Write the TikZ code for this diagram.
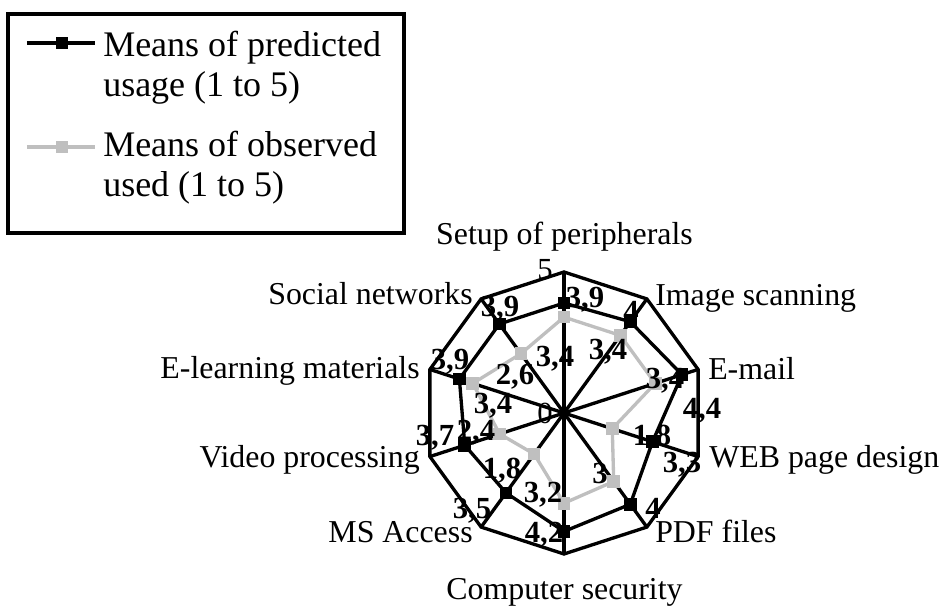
\documentclass[tikz,border=0pt]{standalone}
\usepackage{fontspec}
\setmainfont{Liberation Serif}
\usepackage{xcolor}
\usepackage{tikz}
\usetikzlibrary{positioning, arrows.meta}
\definecolor{sGray}{HTML}{BFBFBF}

\tikzset{
  gridline/.style={draw=black, line width=2.5pt, line join=miter},
  predline/.style={draw=black, line width=2.5pt},
  obsline/.style={draw=sGray, line width=2.5pt, line join=round},
  predmark/.style={fill=black, minimum size=9.5pt, inner sep=0pt},
  obsmark/.style={fill=sGray, minimum size=9.5pt, inner sep=0pt},
  catlabel/.style={font=\fontsize{23.9}{28}\selectfont, inner sep=0pt},
  vallabel/.style={font=\fontsize{23}{26}\selectfont\bfseries, inner sep=0pt, anchor=base},
  axlabel/.style={font=\fontsize{23}{26}\selectfont, inner sep=0pt, anchor=base},
  legtext/.style={font=\fontsize{27}{30}\selectfont, inner sep=0pt, anchor=base west},
}

\begin{document}
\begin{tikzpicture}[x=0.75pt, y=0.75pt]
  \useasboundingbox (-564,413) rectangle (379,-194);
  \coordinate (c) at (0,0);
  \foreach \i in {0,...,9} \coordinate (o\i) at ({90-36*\i}:141);
  \foreach \i in {0,...,9} \draw[gridline] (c) -- (o\i);
  \draw[gridline] (o0) -- (o1) -- (o2) -- (o3) -- (o4) -- (o5) -- (o6) -- (o7) -- (o8) -- (o9) -- cycle;

  \foreach \v [count=\i from 0] in {3.9,4,4.4,3.3,4,4.2,3.5,3.7,3.9,3.9}
    \coordinate (p\i) at ({90-36*\i}:{\v*28.2});
  \foreach \v [count=\i from 0] in {3.4,3.4,3.4,1.8,3,3.2,1.8,2.4,3.4,2.6}
    \coordinate (q\i) at ({90-36*\i}:{\v*28.2});
  \draw[predline] (p0) -- (p1) -- (p2) -- (p3) -- (p4) -- (p5) -- (p6) -- (p7) -- (p8) -- (p9) -- cycle;
  \draw[obsline] (q0) -- (q1) -- (q2) -- (q3) -- (q4) -- (q5) -- (q6) -- (q7) -- (q8) -- (q9) -- cycle;
  \foreach \i in {0,...,9} {
    \node[predmark] (pm\i) at (p\i) {};
    \node[obsmark] (qm\i) at (q\i) {};
  }

  \node[axlabel] (max) at (-19,133) {5};
  \node[axlabel] (min) at (-19,-10) {0};

  \node[vallabel] (pv0) at (21,105) {3,9};
  \node[vallabel] (pv1) at (67,91) {4};
  \node[vallabel] (pv2) at (138,-5) {4,4};
  \node[vallabel] (pv3) at (118,-59) {3,3};
  \node[vallabel] (pv4) at (89,-105) {4};
  \node[vallabel] (pv5) at (-20,-129) {4,2};
  \node[vallabel] (pv6) at (-92,-105) {3,5};
  \node[vallabel] (pv7) at (-129,-32) {3,7};
  \node[vallabel] (pv8) at (-114,44) {3,9};
  \node[vallabel] (pv9) at (-64,96) {3,9};

  \node[vallabel] (qv0) at (-9,46) {3,4};
  \node[vallabel] (qv1) at (44,53) {3,4};
  \node[vallabel] (qv2) at (101,25) {3,4};
  \node[vallabel] (qv3) at (88,-32) {1,8};
  \node[vallabel] (qv4) at (36,-70) {3};
  \node[vallabel] (qv5) at (-21,-89) {3,2};
  \node[vallabel] (qv6) at (-62,-65) {1,8};
  \node[vallabel] (qv7) at (-88,-27) {2,4};
  \node[vallabel] (qv8) at (-71,0) {3,4};
  \node[vallabel] (qv9) at (-49,28) {2,6};

  \node[catlabel, anchor=base] (cat0) at (0.5,168) {Setup of peripherals};
  \node[catlabel, anchor=base west] (cat1) at (91,107) {Image scanning};
  \node[catlabel, anchor=base west] (cat2) at (144,34) {E-mail};
  \node[catlabel, anchor=base west] (cat3) at (145,-54) {WEB page design};
  \node[catlabel, anchor=base west] (cat4) at (91,-129) {PDF files};
  \node[catlabel, anchor=base] (cat5) at (0.5,-186) {Computer security};
  \node[catlabel, anchor=base east] (cat6) at (-91,-129) {MS Access};
  \node[catlabel, anchor=base east] (cat7) at (-144,-54) {Video processing};
  \node[catlabel, anchor=base east] (cat8) at (-144,35) {E-learning materials};
  \node[catlabel, anchor=base east] (cat9) at (-91,108) {Social networks};

  \draw[line width=2.5pt] (-556,399) rectangle (-160,180);
  \coordinate (la1) at (-537,370);
  \coordinate (lb1) at (-469,370);
  \coordinate (la2) at (-537,266);
  \coordinate (lb2) at (-469,266);
  \draw[predline] (la1) -- (lb1);
  \draw[obsline] (la2) -- (lb2);
  \node[predmark] (lm1) at (-502,370) {};
  \node[obsmark] (lm2) at (-502,266) {};
  \node[legtext] (lt1) at (-461,356) {Means of predicted};
  \node[legtext] (lt2) at (-461,316) {usage (1 to 5)};
  \node[legtext] (lt3) at (-461,256) {Means of observed};
  \node[legtext] (lt4) at (-461,216) {used (1 to 5)};
\end{tikzpicture}
\end{document}
